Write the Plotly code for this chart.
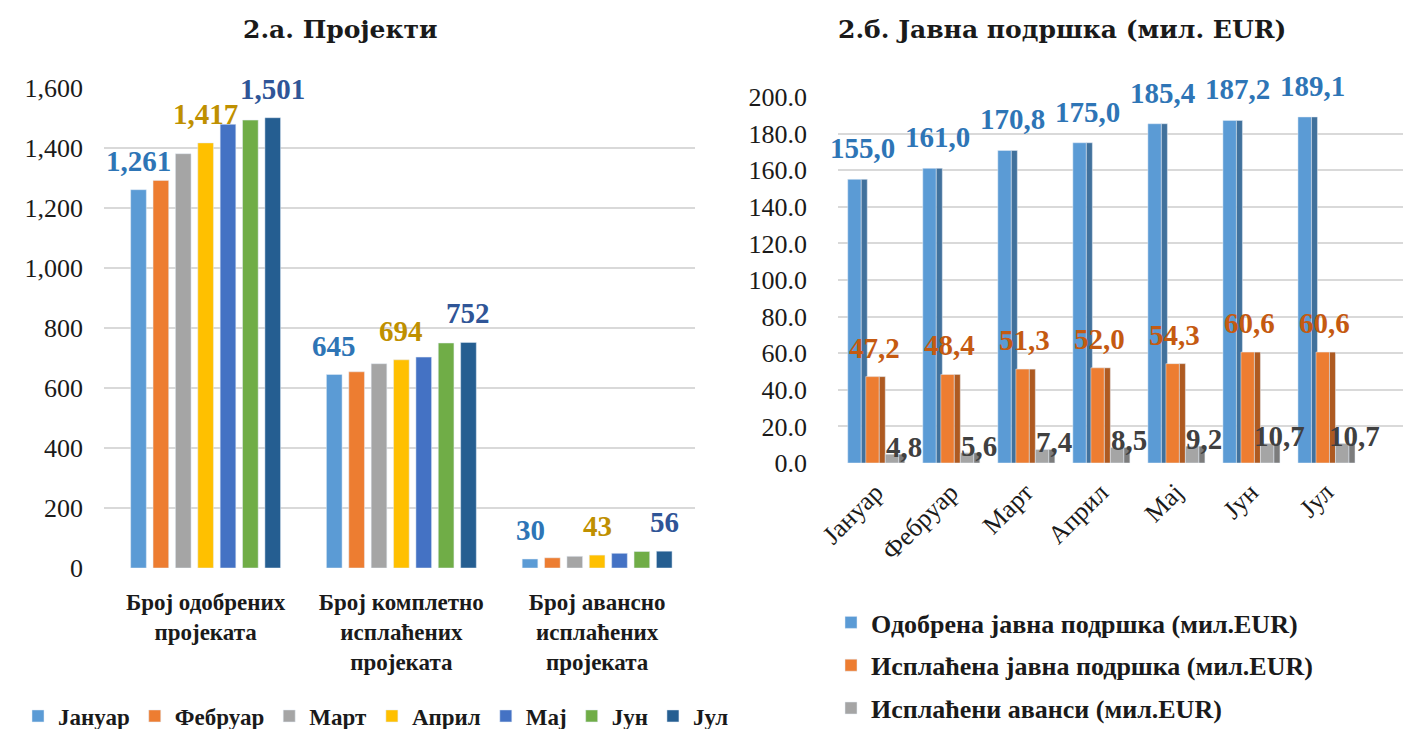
import plotly.graph_objects as go

# ---------------- data ----------------
months = ["Јануар", "Фебруар", "Март", "Април", "Мај", "Јун", "Јул"]
project_cats = ["Број одобрених<br>пројеката",
                "Број комплетно<br>исплаћених<br>пројеката",
                "Број авансно<br>исплаћених<br>пројеката"]

jan = [1261, 645, 30]
feb = [1292, 654, 34]
mar = [1381, 681, 39]
apr = [1417, 694, 43]
may = [1479, 703, 49]
jun = [1493, 750, 55]
jul = [1501, 752, 56]
left_series = [jan, feb, mar, apr, may, jun, jul]
left_labelled = [0, 3, 6]   # months that carry data labels

approved = [155.0, 161.0, 170.8, 175.0, 185.4, 187.2, 189.1]
paid = [47.2, 48.4, 51.3, 52.0, 54.3, 60.6, 60.6]
advances = [4.8, 5.6, 7.4, 8.5, 9.2, 10.7, 10.7]
right_names = ["Одобрена јавна подршка (мил.EUR)",
               "Исплаћена јавна подршка (мил.EUR)",
               "Исплаћени аванси (мил.EUR)"]
right_series = [approved, paid, advances]

left_ticks = [0, 200, 400, 600, 800, 1000, 1200, 1400, 1600]
right_ticks = [0, 20, 40, 60, 80, 100, 120, 140, 160, 180, 200]

# ---------------- styles ----------------
OFF = 8                       # page margin of the browser
W, H = 1411 - 2 * OFF, 737 - 2 * OFF
SERIF = "Liberation Serif"
TITLE_FONT = "DejaVu Serif"
INK = "#1a1a1a"
month_colors = ["#5B9BD5", "#ED7D31", "#A5A5A5", "#FFC000", "#4472C4", "#70AD47", "#255E91"]
left_label_colors = {0: "#2E75B6", 3: "#BF9000", 6: "#2F5597"}
right_colors = ["#5B9BD5", "#ED7D31", "#A5A5A5"]
right_side_colors = ["#41719C", "#AE5A21", "#7C7C7C"]
right_label_colors = ["#2E75B6", "#C55A11", "#404040"]
right_front_offset = [-0.37, -0.13, 0.13]
right_side_offset = [-0.19, 0.05, 0.31]
front_w, side_w = 0.18, 0.08
right_label_dx = [-0.24, -0.04, 0.22]
right_label_xshift = [5, 2, 12]
right_label_yshift = [31, 29, 7]
BARGAP = 0.2


def px(xp):
    return min(1.0, max(0.0, (xp - OFF) / W))


def py(yp):
    return min(1.0, max(0.0, 1 - (yp - OFF) / H))


fig = go.Figure()

# ---- left chart: grouped bars ----
for i, (m, vals) in enumerate(zip(months, left_series)):
    fig.add_trace(go.Bar(
        x=project_cats, y=vals, name=m, marker_color=month_colors[i],
        xaxis="x", yaxis="y", legend="legend", hoverinfo="x+y+name"))

annotations = []
n = len(left_series)
slot = (1 - BARGAP) / n
for i in left_labelled:
    for j, v in enumerate(left_series[i]):
        annotations.append(dict(
            x=j - (1 - BARGAP) / 2 + (i + 0.5) * slot, y=v, xref="x", yref="y",
            text=f"{v:,}", showarrow=False, yshift=29, yanchor="middle", xanchor="center",
            font=dict(family=SERIF, size=29, color=left_label_colors[i], weight="bold")))

# ---- right chart: pseudo-3D bars ----
for k, (name, vals) in enumerate(zip(right_names, right_series)):
    fig.add_trace(go.Bar(
        x=months, y=vals, name=name, marker_color=right_colors[k],
        width=front_w, offset=right_front_offset[k],
        xaxis="x2", yaxis="y2", legend="legend2", legendgroup=f"g{k}"))
    fig.add_trace(go.Bar(
        x=months, y=vals, name=name, marker_color=right_side_colors[k],
        width=side_w, offset=right_side_offset[k], showlegend=False,
        xaxis="x2", yaxis="y2", legendgroup=f"g{k}", hoverinfo="skip"))
    for j, v in enumerate(vals):
        annotations.append(dict(
            x=j + right_label_dx[k], y=v, xref="x2", yref="y2",
            text=f"{v:.1f}".replace(".", ","), showarrow=False, xanchor="center",
            xshift=right_label_xshift[k], yshift=right_label_yshift[k], yanchor="middle",
            font=dict(family=SERIF, size=29, color=right_label_colors[k], weight="bold")))

# ---- titles ----
annotations.append(dict(x=px(340), y=py(30), xref="paper", yref="paper", showarrow=False,
                        xanchor="center", yanchor="middle",
                        text="<b>2.а. Пројекти</b>",
                        font=dict(family=TITLE_FONT, size=25, color=INK)))
annotations.append(dict(x=px(1062), y=py(30), xref="paper", yref="paper", showarrow=False,
                        xanchor="center", yanchor="middle",
                        text="<b>2.б. Јавна подршка (мил. EUR)</b>",
                        font=dict(family=TITLE_FONT, size=25, color=INK)))

grid = "#D9D9D9"
fig.update_layout(
    width=W, height=H, margin=dict(l=0, r=0, t=0, b=0, autoexpand=False),
    paper_bgcolor="white", plot_bgcolor="white",
    barmode="group", bargap=BARGAP, bargroupgap=0.3,
    showlegend=True,
    annotations=annotations,
    xaxis=dict(domain=[px(104), px(695)], anchor="y", type="category",
               showgrid=False, zeroline=False, showline=False, ticks="",
               ticklabelstandoff=18,
               tickfont=dict(family=SERIF, size=23, color=INK, weight="bold")),
    yaxis=dict(domain=[py(568), py(88)], anchor="x", range=[0, 1600],
               tickvals=left_ticks, tickformat=",d", showgrid=True, gridcolor=grid,
               gridwidth=2, zeroline=False, showline=False, ticklabelstandoff=20,
               tickfont=dict(family=SERIF, size=26, color=INK)),
    xaxis2=dict(domain=[px(838), px(1403)], anchor="y2", type="category",
                range=[-0.5, 7.03], tickangle=-45, showgrid=False, zeroline=False,
                showline=False, ticks="", ticklabelstandoff=8,
                tickfont=dict(family=SERIF, size=26, color=INK)),
    yaxis2=dict(domain=[py(463), py(97)], anchor="x2", range=[0, 200],
                tickvals=right_ticks, tickformat=".1f", showgrid=True, gridcolor=grid,
                gridwidth=2, zeroline=False, showline=False, ticklabelstandoff=30,
                tickfont=dict(family=SERIF, size=26, color=INK)),
    legend=dict(orientation="h", traceorder="normal", x=px(18), y=py(716),
                yanchor="middle", xanchor="left",
                font=dict(family=SERIF, size=23, color=INK, weight="bold"),
                itemwidth=30, bgcolor="rgba(0,0,0,0)"),
    legend2=dict(orientation="v", traceorder="grouped", x=px(831), y=py(599),
                 yanchor="top", xanchor="left",
                 font=dict(family=SERIF, size=26, color=INK, weight="bold"),
                 tracegroupgap=6, itemwidth=30, bgcolor="rgba(0,0,0,0)"),
)

fig.write_html("out.html")
